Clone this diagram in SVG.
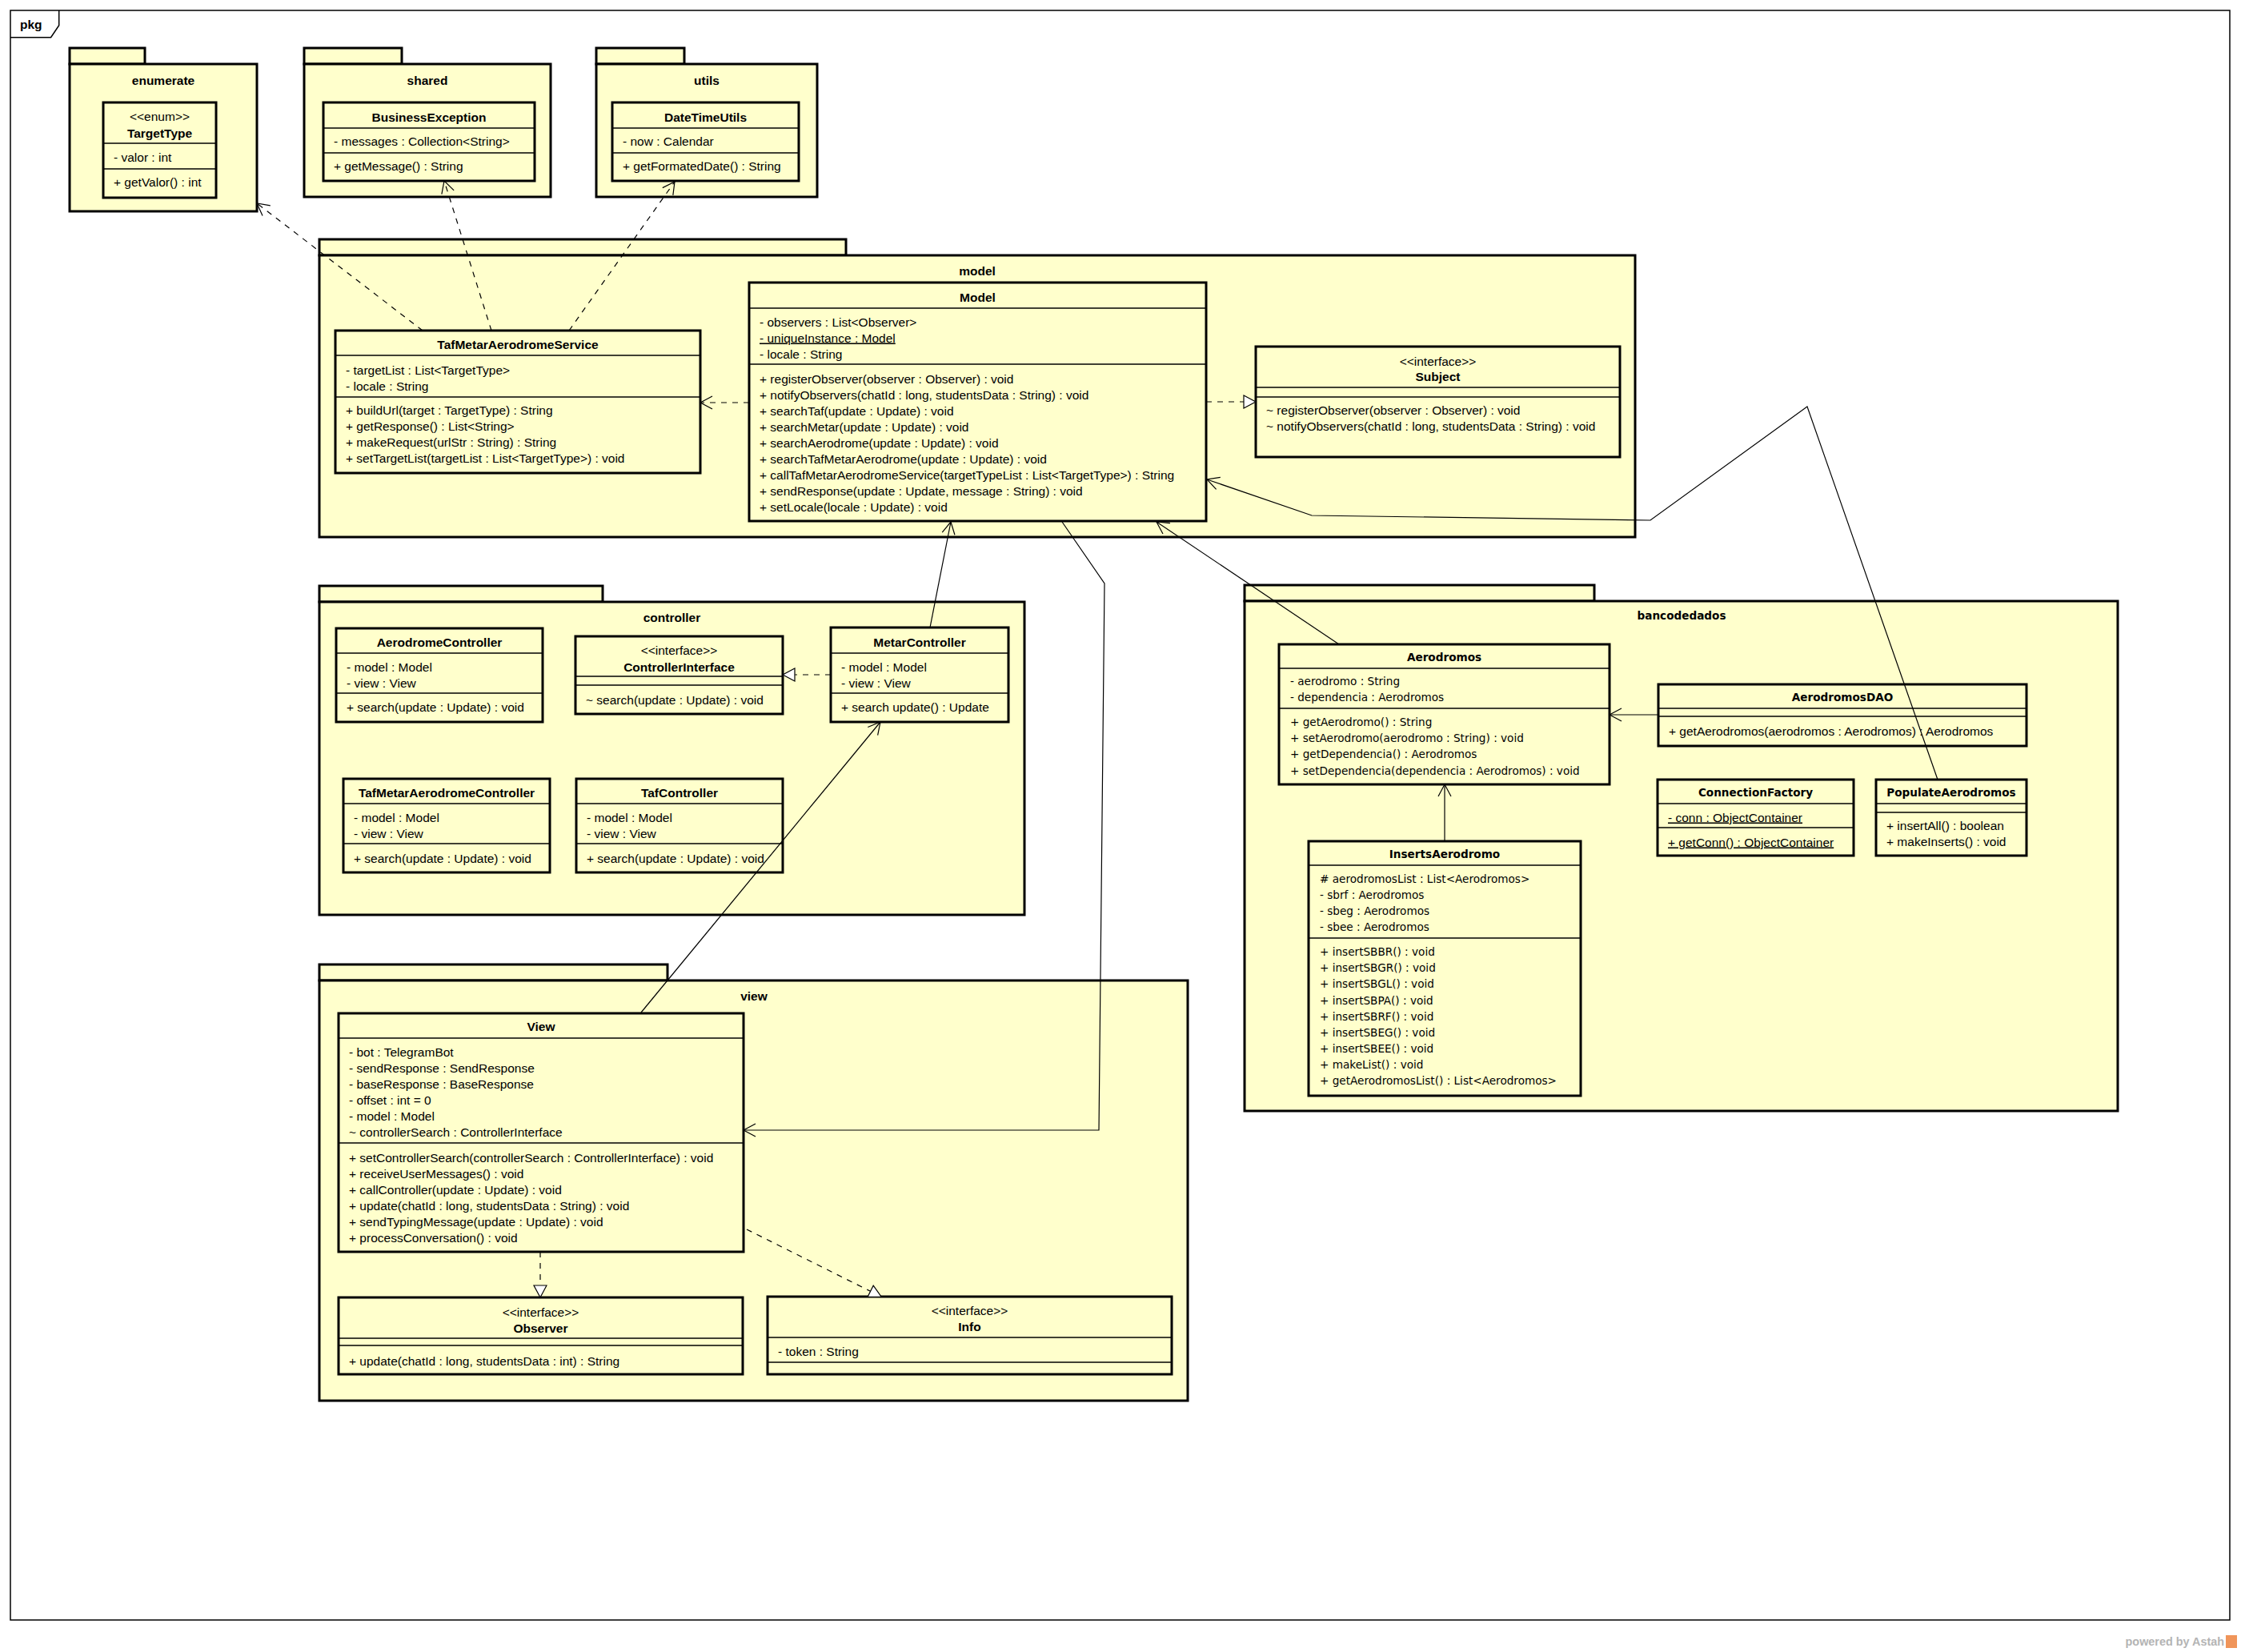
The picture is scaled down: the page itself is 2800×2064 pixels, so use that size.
<svg xmlns="http://www.w3.org/2000/svg" width="2800" height="2064" viewBox="0 0 2800 2064">
<style>
.frame{fill:none;stroke:#000;stroke-width:1.5}
.pkg{fill:#FFFFCC;stroke:#000;stroke-width:3}
.cls{fill:#FFFFCC;stroke:#000;stroke-width:3}
.sep{stroke:#000;stroke-width:1.3}
text{font-family:"Liberation Sans",Arial,sans-serif;font-size:15.5px;fill:#000}
.b{font-weight:bold}
.m{text-anchor:middle}
.dv{font-family:"DejaVu Sans",Verdana,sans-serif;font-size:13.6px}
.u{text-decoration:underline}
.ln{fill:none;stroke:#000;stroke-width:1.2}
.dash{stroke-dasharray:7 7}
.arr{marker-end:url(#open)}
.tri{marker-end:url(#tri)}
</style>
<defs>
<marker id="open" markerUnits="userSpaceOnUse" viewBox="-17 -10 19 20" refX="0" refY="0" markerWidth="19" markerHeight="20" orient="auto" overflow="visible">
<path d="M-15,-8 L0,0 L-15,8" fill="none" stroke="#000" stroke-width="1.2" stroke-dasharray="none"/>
</marker>
<marker id="tri" markerUnits="userSpaceOnUse" viewBox="-17 -10 19 20" refX="0" refY="0" markerWidth="19" markerHeight="20" orient="auto" overflow="visible">
<path d="M-15,-8 L0,0 L-15,8 Z" fill="#fff" stroke="#000" stroke-width="1.2" stroke-dasharray="none"/>
</marker>
</defs>
<rect x="0" y="0" width="2800" height="2064" fill="#fff"/>
<g id="frame">
<rect class="frame" x="13" y="13" width="2773" height="2011"/>
<path class="frame" d="M13,46.7 H63.6 L73.7,31.7 V13"/>
<text class="b" x="25" y="36">pkg</text>
</g>

<g id="pkg-enumerate">
<rect class="pkg" x="87" y="60" width="94" height="20"/>
<rect class="pkg" x="87" y="80" width="234" height="184"/>
<text class="b m" x="204" y="105.5">enumerate</text>
</g>
<g id="pkg-shared">
<rect class="pkg" x="380" y="60" width="122" height="20"/>
<rect class="pkg" x="380" y="80" width="308" height="166"/>
<text class="b m" x="534" y="105.5">shared</text>
</g>
<g id="pkg-utils">
<rect class="pkg" x="745" y="60" width="110" height="20"/>
<rect class="pkg" x="745" y="80" width="276" height="166"/>
<text class="b m" x="883" y="105.5">utils</text>
</g>
<g id="pkg-model">
<rect class="pkg" x="399" y="299" width="658" height="20"/>
<rect class="pkg" x="399" y="319" width="1644" height="352"/>
<text class="b m" x="1221" y="343.5">model</text>
</g>
<g id="pkg-controller">
<rect class="pkg" x="399" y="732" width="354" height="20"/>
<rect class="pkg" x="399" y="752" width="881" height="391"/>
<text class="b m" x="839.5" y="776.5">controller</text>
</g>
<g id="pkg-view">
<rect class="pkg" x="399" y="1205" width="435" height="20"/>
<rect class="pkg" x="399" y="1225" width="1085" height="525"/>
<text class="b m" x="942" y="1249.5">view</text>
</g>
<g id="pkg-bancodedados">
<rect class="pkg" x="1555" y="731" width="437" height="20"/>
<rect class="pkg" x="1555" y="751" width="1091" height="637"/>
<text class="b m dv" x="2101" y="774">bancodedados</text>
</g>

<g id="TargetType">
<rect class="cls" x="129" y="128" width="141" height="119"/>
<text class="m" x="199.5" y="151">&lt;&lt;enum&gt;&gt;</text>
<text class="m b" x="199.5" y="172">TargetType</text>
<line class="sep" x1="129" y1="179" x2="270" y2="179"/>
<text x="142" y="202">- valor : int</text>
<line class="sep" x1="129" y1="211" x2="270" y2="211"/>
<text x="142" y="233">+ getValor() : int</text>
</g>
<g id="BusinessException">
<rect class="cls" x="404" y="128" width="264" height="98"/>
<text class="m b" x="536" y="152">BusinessException</text>
<line class="sep" x1="404" y1="160" x2="668" y2="160"/>
<text x="417" y="182">- messages : Collection&lt;String&gt;</text>
<line class="sep" x1="404" y1="191" x2="668" y2="191"/>
<text x="417" y="213">+ getMessage() : String</text>
</g>
<g id="DateTimeUtils">
<rect class="cls" x="765" y="128" width="233" height="98"/>
<text class="m b" x="881.5" y="152">DateTimeUtils</text>
<line class="sep" x1="765" y1="160" x2="998" y2="160"/>
<text x="778" y="182">- now : Calendar</text>
<line class="sep" x1="765" y1="191" x2="998" y2="191"/>
<text x="778" y="213">+ getFormatedDate() : String</text>
</g>

<g id="TafMetarAerodromeService">
<rect class="cls" x="419" y="413" width="456" height="178"/>
<text class="m b" x="647" y="435.5">TafMetarAerodromeService</text>
<line class="sep" x1="419" y1="444" x2="875" y2="444"/>
<text x="432" y="467.5">- targetList : List&lt;TargetType&gt;</text>
<text x="432" y="487.5">- locale : String</text>
<line class="sep" x1="419" y1="496" x2="875" y2="496"/>
<text x="432" y="517.5">+ buildUrl(target : TargetType) : String</text>
<text x="432" y="537.5">+ getResponse() : List&lt;String&gt;</text>
<text x="432" y="557.5">+ makeRequest(urlStr : String) : String</text>
<text x="432" y="577.5">+ setTargetList(targetList : List&lt;TargetType&gt;) : void</text>
</g>
<g id="Model">
<rect class="cls" x="936" y="353" width="571" height="298"/>
<text class="m b" x="1221.5" y="376.5">Model</text>
<line class="sep" x1="936" y1="385" x2="1507" y2="385"/>
<text x="949" y="407.5">- observers : List&lt;Observer&gt;</text>
<text class="u" x="949" y="427.5">- uniqueInstance : Model</text>
<text x="949" y="447.5">- locale : String</text>
<line class="sep" x1="936" y1="455" x2="1507" y2="455"/>
<text x="949" y="478.5">+ registerObserver(observer : Observer) : void</text>
<text x="949" y="498.5">+ notifyObservers(chatId : long, studentsData : String) : void</text>
<text x="949" y="518.5">+ searchTaf(update : Update) : void</text>
<text x="949" y="538.5">+ searchMetar(update : Update) : void</text>
<text x="949" y="558.5">+ searchAerodrome(update : Update) : void</text>
<text x="949" y="578.5">+ searchTafMetarAerodrome(update : Update) : void</text>
<text x="949" y="598.5">+ callTafMetarAerodromeService(targetTypeList : List&lt;TargetType&gt;) : String</text>
<text x="949" y="618.5">+ sendResponse(update : Update, message : String) : void</text>
<text x="949" y="638.5">+ setLocale(locale : Update) : void</text>
</g>
<g id="Subject">
<rect class="cls" x="1569" y="433" width="455" height="138"/>
<text class="m" x="1796.5" y="456.5">&lt;&lt;interface&gt;&gt;</text>
<text class="m b" x="1796.5" y="475.5">Subject</text>
<line class="sep" x1="1569" y1="484" x2="2024" y2="484"/>
<line class="sep" x1="1569" y1="496" x2="2024" y2="496"/>
<text x="1582" y="517.5">~ registerObserver(observer : Observer) : void</text>
<text x="1582" y="537.5">~ notifyObservers(chatId : long, studentsData : String) : void</text>
</g>

<g id="AerodromeController">
<rect class="cls" x="420" y="785" width="258" height="117"/>
<text class="m b" x="549" y="807.5">AerodromeController</text>
<line class="sep" x1="420" y1="816" x2="678" y2="816"/>
<text x="433" y="838.5">- model : Model</text>
<text x="433" y="858.5">- view : View</text>
<line class="sep" x1="420" y1="866" x2="678" y2="866"/>
<text x="433" y="889">+ search(update : Update) : void</text>
</g>
<g id="ControllerInterface">
<rect class="cls" x="719" y="795" width="259" height="97"/>
<text class="m" x="848.5" y="818">&lt;&lt;interface&gt;&gt;</text>
<text class="m b" x="848.5" y="838.5">ControllerInterface</text>
<line class="sep" x1="719" y1="845" x2="978" y2="845"/>
<line class="sep" x1="719" y1="856" x2="978" y2="856"/>
<text x="732" y="879.5">~ search(update : Update) : void</text>
</g>
<g id="MetarController">
<rect class="cls" x="1038" y="784" width="222" height="118"/>
<text class="m b" x="1149" y="807.5">MetarController</text>
<line class="sep" x1="1038" y1="816" x2="1260" y2="816"/>
<text x="1051" y="838.5">- model : Model</text>
<text x="1051" y="858.5">- view : View</text>
<line class="sep" x1="1038" y1="866" x2="1260" y2="866"/>
<text x="1051" y="889">+ search update() : Update</text>
</g>
<g id="TafMetarAerodromeController">
<rect class="cls" x="429" y="973" width="258" height="117"/>
<text class="m b" x="558" y="995.5">TafMetarAerodromeController</text>
<line class="sep" x1="429" y1="1004" x2="687" y2="1004"/>
<text x="442" y="1026.5">- model : Model</text>
<text x="442" y="1047">- view : View</text>
<line class="sep" x1="429" y1="1054" x2="687" y2="1054"/>
<text x="442" y="1077.5">+ search(update : Update) : void</text>
</g>
<g id="TafController">
<rect class="cls" x="720" y="973" width="258" height="117"/>
<text class="m b" x="849" y="995.5">TafController</text>
<line class="sep" x1="720" y1="1004" x2="978" y2="1004"/>
<text x="733" y="1026.5">- model : Model</text>
<text x="733" y="1047">- view : View</text>
<line class="sep" x1="720" y1="1054" x2="978" y2="1054"/>
<text x="733" y="1077.5">+ search(update : Update) : void</text>
</g>

<g id="View">
<rect class="cls" x="423" y="1266" width="506" height="298"/>
<text class="m b" x="676" y="1287.5">View</text>
<line class="sep" x1="423" y1="1297" x2="929" y2="1297"/>
<text x="436" y="1319.5">- bot : TelegramBot</text>
<text x="436" y="1339.5">- sendResponse : SendResponse</text>
<text x="436" y="1359.5">- baseResponse : BaseResponse</text>
<text x="436" y="1379.5">- offset : int = 0</text>
<text x="436" y="1399.5">- model : Model</text>
<text x="436" y="1419.5">~ controllerSearch : ControllerInterface</text>
<line class="sep" x1="423" y1="1428" x2="929" y2="1428"/>
<text x="436" y="1451.5">+ setControllerSearch(controllerSearch : ControllerInterface) : void</text>
<text x="436" y="1471.5">+ receiveUserMessages() : void</text>
<text x="436" y="1491.5">+ callController(update : Update) : void</text>
<text x="436" y="1511.5">+ update(chatId : long, studentsData : String) : void</text>
<text x="436" y="1531.5">+ sendTypingMessage(update : Update) : void</text>
<text x="436" y="1551.5">+ processConversation() : void</text>
</g>
<g id="Observer">
<rect class="cls" x="423" y="1621" width="505" height="96"/>
<text class="m" x="675.5" y="1644.5">&lt;&lt;interface&gt;&gt;</text>
<text class="m b" x="675.5" y="1664.5">Observer</text>
<line class="sep" x1="423" y1="1672" x2="928" y2="1672"/>
<line class="sep" x1="423" y1="1681" x2="928" y2="1681"/>
<text x="436" y="1705.5">+ update(chatId : long, studentsData : int) : String</text>
</g>
<g id="Info">
<rect class="cls" x="959" y="1620" width="505" height="97"/>
<text class="m" x="1211.5" y="1642.5">&lt;&lt;interface&gt;&gt;</text>
<text class="m b" x="1211.5" y="1662.5">Info</text>
<line class="sep" x1="959" y1="1671" x2="1464" y2="1671"/>
<text x="972" y="1693.5">- token : String</text>
<line class="sep" x1="959" y1="1702" x2="1464" y2="1702"/>
</g>

<g id="Aerodromos">
<rect class="cls" x="1598" y="805" width="413" height="175"/>
<text class="m b dv" x="1804.5" y="826">Aerodromos</text>
<line class="sep" x1="1598" y1="835" x2="2011" y2="835"/>
<text class="dv" x="1612" y="856">- aerodromo : String</text>
<text class="dv" x="1612" y="876">- dependencia : Aerodromos</text>
<line class="sep" x1="1598" y1="885" x2="2011" y2="885"/>
<text class="dv" x="1612" y="907">+ getAerodromo() : String</text>
<text class="dv" x="1612" y="927">+ setAerodromo(aerodromo : String) : void</text>
<text class="dv" x="1612" y="947">+ getDependencia() : Aerodromos</text>
<text class="dv" x="1612" y="967.5">+ setDependencia(dependencia : Aerodromos) : void</text>
</g>
<g id="InsertsAerodromo">
<rect class="cls" x="1635" y="1051" width="340" height="318"/>
<text class="m b dv" x="1805" y="1072">InsertsAerodromo</text>
<line class="sep" x1="1635" y1="1081" x2="1975" y2="1081"/>
<text class="dv" x="1649" y="1103">#  aerodromosList : List&lt;Aerodromos&gt;</text>
<text class="dv" x="1649" y="1123">- sbrf : Aerodromos</text>
<text class="dv" x="1649" y="1143">- sbeg : Aerodromos</text>
<text class="dv" x="1649" y="1163">- sbee : Aerodromos</text>
<line class="sep" x1="1635" y1="1172" x2="1975" y2="1172"/>
<text class="dv" x="1649" y="1194">+ insertSBBR() : void</text>
<text class="dv" x="1649" y="1214">+ insertSBGR() : void</text>
<text class="dv" x="1649" y="1234">+ insertSBGL() : void</text>
<text class="dv" x="1649" y="1255">+ insertSBPA() : void</text>
<text class="dv" x="1649" y="1275">+ insertSBRF() : void</text>
<text class="dv" x="1649" y="1295">+ insertSBEG() : void</text>
<text class="dv" x="1649" y="1315">+ insertSBEE() : void</text>
<text class="dv" x="1649" y="1335">+ makeList() : void</text>
<text class="dv" x="1649" y="1355">+ getAerodromosList() : List&lt;Aerodromos&gt;</text>
</g>
<g id="AerodromosDAO">
<rect class="cls" x="2072" y="855" width="460" height="77"/>
<text class="m b dv" x="2302" y="876">AerodromosDAO</text>
<line class="sep" x1="2072" y1="885" x2="2532" y2="885"/>
<line class="sep" x1="2072" y1="895" x2="2532" y2="895"/>
<text x="2085" y="918.5">+ getAerodromos(aerodromos : Aerodromos) : Aerodromos</text>
</g>
<g id="ConnectionFactory">
<rect class="cls" x="2071" y="974" width="245" height="95"/>
<text class="m b dv" x="2193.5" y="995">ConnectionFactory</text>
<line class="sep" x1="2071" y1="1004" x2="2316" y2="1004"/>
<text class="u" x="2084" y="1026.5">- conn : ObjectContainer</text>
<line class="sep" x1="2071" y1="1034" x2="2316" y2="1034"/>
<text class="u" x="2084" y="1057.5">+ getConn() : ObjectContainer</text>
</g>
<g id="PopulateAerodromos">
<rect class="cls" x="2344" y="974" width="188" height="95"/>
<text class="m b dv" x="2438" y="995">PopulateAerodromos</text>
<line class="sep" x1="2344" y1="1004" x2="2532" y2="1004"/>
<line class="sep" x1="2344" y1="1015" x2="2532" y2="1015"/>
<text x="2357" y="1036.5">+ insertAll() : boolean</text>
<text x="2357" y="1056.5">+ makeInserts() : void</text>
</g>

<g id="connectors">
<path class="ln dash arr" d="M528,413 L321,254"/>
<path class="ln dash arr" d="M614,413 L555,226"/>
<path class="ln dash arr" d="M711,413 L843,227"/>
<path class="ln dash arr" d="M936,503 L875,503"/>
<path class="ln dash tri" d="M1507,502 L1569,502"/>
<path class="ln arr" d="M1162,784 L1188,652"/>
<path class="ln arr" d="M801,1265 L1100,902"/>
<path class="ln dash tri" d="M1038,843 L978,843"/>
<path class="ln arr" d="M1327,652 L1380,729 L1373,1412 L929,1412"/>
<path class="ln arr" d="M1673,805 L1445,652"/>
<path class="ln arr" d="M2421,974 L2258,508 L2062,650 L1639,644 L1508,599"/>
<path class="ln arr" d="M2072,893 L2011,893"/>
<path class="ln arr" d="M1805,1051 L1805,980"/>
<path class="ln dash tri" d="M675,1564 L675,1621"/>
<path class="ln dash tri" d="M933,1536 L1101,1620"/>
</g>

<g id="watermark">
<text class="b" x="2779" y="2056" text-anchor="end" style="font-size:14.4px;fill:#b4b4b4">powered by Astah</text>
<rect x="2781" y="2043" width="14" height="16" fill="#f0955a"/>
</g>
</svg>
